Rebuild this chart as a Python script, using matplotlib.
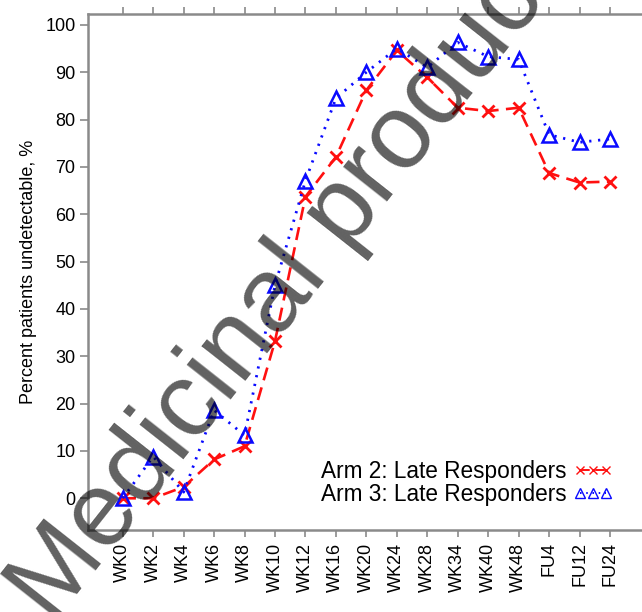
import matplotlib
matplotlib.use("Agg")
import matplotlib.pyplot as plt

plt.rcParams['font.family'] = ['Liberation Sans', 'DejaVu Sans']

categories = ["WK0", "WK2", "WK4", "WK6", "WK8", "WK10", "WK12", "WK16", "WK20",
              "WK24", "WK28", "WK34", "WK40", "WK48", "FU4", "FU12", "FU24"]
arm2 = [0, 0, 2.4, 8.2, 11.0, 33.2, 63.7, 72.1, 86.2, 94.6, 88.9, 82.5, 81.8, 82.5, 68.7, 66.7, 66.9]
arm3 = [0, 8.8, 1.3, 18.6, 13.3, 45.0, 67.1, 84.5, 90.0, 95.0, 91.0, 96.3, 93.3, 92.7, 76.8, 75.2, 75.9]
labels = ["Arm 2: Late Responders", "Arm 3: Late Responders"]
yticks = list(range(0, 101, 10))

W, H = 642, 612
fig = plt.figure(figsize=(W / 100, H / 100), dpi=100)
ax = fig.add_axes([88 / W, 1 - 530 / H, (W - 88) / W, (530 - 14) / H])

x = list(range(len(categories)))
ax.plot(x, arm2, color='#ff1010', linestyle=(0, (5, 2.8)), linewidth=1.9,
        marker='x', markersize=9, markeredgewidth=2.0, label=labels[0], zorder=3)
ax.plot(x, arm3, color='#0a0aff', linestyle=(0, (0.8, 2.4)), linewidth=2.0,
        marker='^', markersize=10, markerfacecolor='none', markeredgewidth=1.8,
        label=labels[1], zorder=4)

ax.set_xlim(-1.14, 17.05)
ax.set_ylim(-6.7, 102.3)
ax.set_xticks(x)
ax.set_xticklabels(categories, rotation=90, fontsize=13)
ax.set_yticks(yticks)
ax.set_yticklabels([str(v) for v in yticks], fontsize=13)

for side in ['left', 'bottom', 'top']:
    ax.spines[side].set_color('#8a8a8a')
    ax.spines[side].set_linewidth(1.8)
ax.spines['right'].set_visible(False)

ax.tick_params(axis='y', direction='out', length=6, width=1.2, color='#8a8a8a', pad=3)
ax.tick_params(axis='x', direction='out', length=5, width=1.2, color='#8a8a8a', pad=4,
               top=True)

ax.set_ylabel("Percent patients undetectable, %", fontsize=13, labelpad=6)

leg = ax.legend(loc='lower right', bbox_to_anchor=(613 / W, (H - 506) / H),
                bbox_transform=fig.transFigure, frameon=False, markerfirst=False,
                fontsize=16.3, numpoints=3, handlelength=1.75, handletextpad=0.3,
                labelspacing=0.0, borderpad=0, borderaxespad=0, markerscale=0.65)
for h in leg.legend_handles:
    h.set_linewidth(1.4)
    h.set_markeredgewidth(1.0)

fig.text(53 / W, -13 / H, "Medicinal product no longer authorised", fontsize=76,
         rotation=51.7, rotation_mode='anchor', ha='left', va='baseline',
         color='black', alpha=0.62, zorder=10)

fig.savefig("out.png", dpi=100)
